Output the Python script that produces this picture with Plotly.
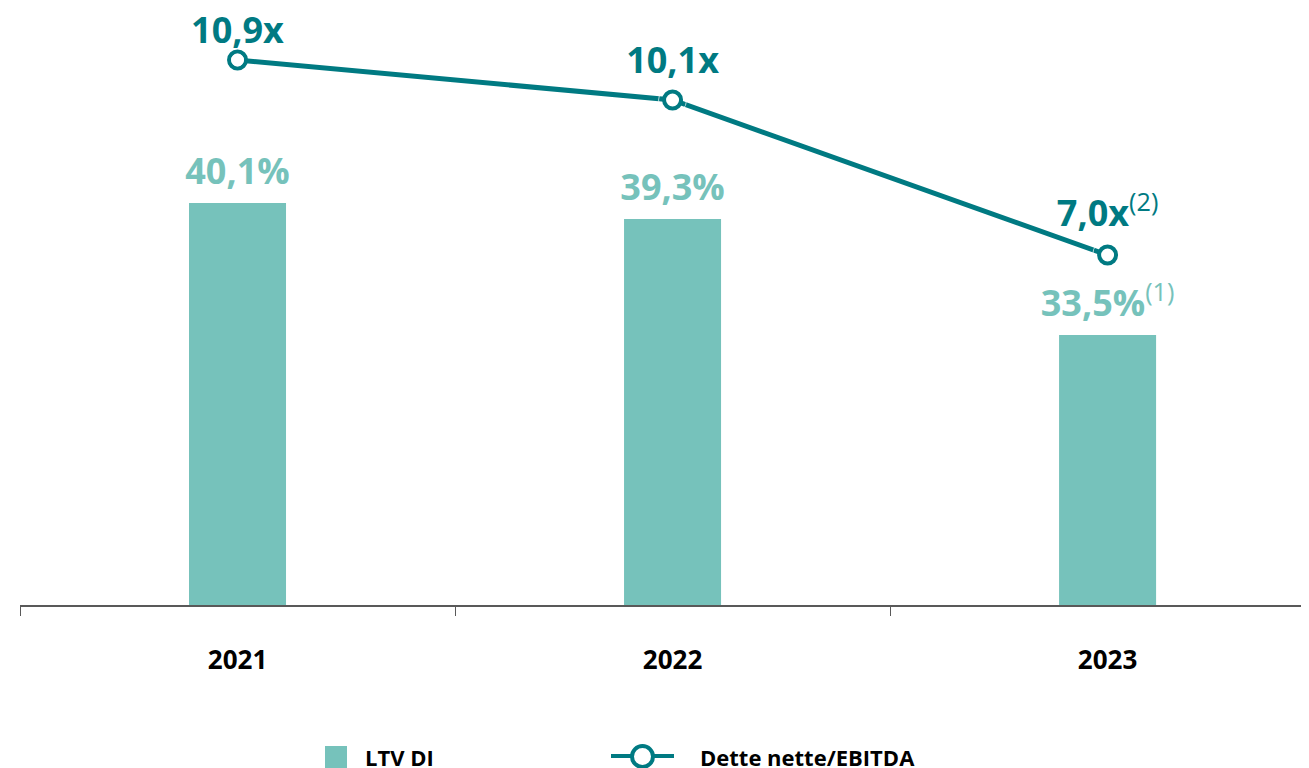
import plotly.graph_objects as go

YEARS = ["2021", "2022", "2023"]
LTV = [40.1, 39.3, 33.5]
LTV_NOTES = ["", "", "(1)"]
LEVERAGE = [10.9, 10.1, 7.0]
LEV_NOTES = ["", "", "(2)"]

BAR_C = "#76C2BB"
LINE_C = "#007A82"
AXIS_C = "#595959"
FONT = "Open Sans"

# the page body keeps an 8px margin, so the figure is 8px smaller
OFF = 8
W, H = 1309 - OFF, 768 - OFF
L, B = 20 - OFF, 163
PH = H - B  # plot height in px


def fmt(v, suffix, note):
    s = f"<b>{v:.1f}{suffix}</b>".replace(".", ",")
    if note:
        s += f"<sup>{note}</sup>"
    return s


def px(x):
    # page pixel -> paper x
    return (x - OFF - L) / (W - L)


def py(y):
    # page pixel -> paper y
    return (PH - (y - OFF)) / PH


fig = go.Figure()

fig.add_trace(
    go.Bar(
        x=YEARS,
        y=LTV,
        base=0,
        name="LTV DI",
        width=0.223,
        marker=dict(color=BAR_C, line_width=0),
        showlegend=False,
    )
)
fig.add_trace(
    go.Scatter(
        x=YEARS,
        y=LTV,
        mode="markers+text",
        marker=dict(size=14, color="rgba(0,0,0,0)"),
        text=[fmt(v, "%", n) for v, n in zip(LTV, LTV_NOTES)],
        textposition="top center",
        textfont=dict(family=FONT, size=36, color=BAR_C),
        cliponaxis=False,
        showlegend=False,
        hoverinfo="skip",
    )
)
fig.add_trace(
    go.Scatter(
        x=YEARS,
        y=LEVERAGE,
        yaxis="y2",
        name="Dette nette/EBITDA",
        mode="lines+markers",
        line=dict(color=LINE_C, width=5),
        marker=dict(size=17, color="white", line=dict(color=LINE_C, width=4)),
        cliponaxis=False,
        showlegend=False,
    )
)
# labels of the line: invisible markers only set how far the text sits above
fig.add_trace(
    go.Scatter(
        x=YEARS,
        y=LEVERAGE,
        yaxis="y2",
        mode="markers+text",
        marker=dict(size=[12, 28, 30], color="rgba(0,0,0,0)"),
        text=[fmt(v, "x", n) for v, n in zip(LEVERAGE, LEV_NOTES)],
        textposition="top center",
        textfont=dict(family=FONT, size=36, color=LINE_C),
        cliponaxis=False,
        showlegend=False,
        hoverinfo="skip",
    )
)

fig.update_layout(
    width=W,
    height=H,
    margin=dict(l=L, r=0, t=0, b=B),
    paper_bgcolor="white",
    plot_bgcolor="white",
    font=dict(family=FONT),
    xaxis=dict(
        type="category",
        range=[-0.5, 2.463],
        tickson="boundaries",
        ticks="outside",
        ticklen=9,
        tickcolor=AXIS_C,
        showline=True,
        linecolor=AXIS_C,
        linewidth=1.5,
        showgrid=False,
        tickfont=dict(family=FONT, size=26, color="black", weight="bold"),
        ticklabelstandoff=31,
    ),
    yaxis=dict(range=[20, 20 + PH / 20], visible=False, showgrid=False),
    yaxis2=dict(
        range=[0, PH / 50], overlaying="y", visible=False, showgrid=False
    ),
)

# legend drawn by hand to get the large symbols of the original
fig.add_shape(
    type="rect", xref="paper", yref="paper",
    x0=px(325), x1=px(347), y0=py(746), y1=py(769),
    fillcolor=BAR_C, line_width=0,
)
fig.add_shape(
    type="line", xref="paper", yref="paper",
    x0=px(611), x1=px(674), y0=py(756), y1=py(756),
    line=dict(color=LINE_C, width=4),
)
fig.add_shape(
    type="circle", xref="paper", yref="paper",
    x0=px(632), x1=px(653), y0=py(746), y1=py(767),
    fillcolor="white", line=dict(color=LINE_C, width=4),
)
for x0, label in [(363, "LTV DI"), (698, "Dette nette/EBITDA")]:
    fig.add_annotation(
        xref="paper", yref="paper", x=px(x0), y=py(757),
        xanchor="left", yanchor="middle", showarrow=False,
        text=f"<b>{label}</b>",
        font=dict(family=FONT, size=22, color="black"),
    )

fig.write_html("out.html")
